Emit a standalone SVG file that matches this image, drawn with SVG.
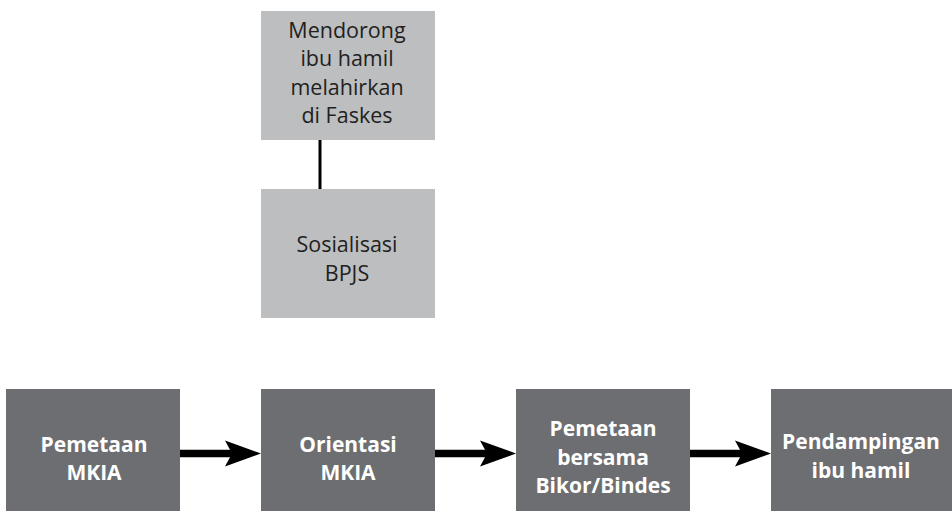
<svg xmlns="http://www.w3.org/2000/svg" width="952" height="511" viewBox="0 0 952 511">
<style>
.lt{fill:#bcbec0}
.dk{fill:#6d6e71}
.t1{font-family:"Open Sans","Noto Sans",sans-serif;font-size:21.5px;fill:#231f20;text-anchor:middle}
.t2{font-family:"Open Sans","Noto Sans",sans-serif;font-size:21px;font-weight:bold;fill:#ffffff;text-anchor:middle}
.ar{stroke:#000;stroke-width:7.5;fill:none}
</style>
<defs>
<path id="head" d="M0,0 L-36,-13 L-29,0 L-36,13 Z" fill="#000"/>
</defs>
<rect width="952" height="511" fill="#fff"/>
<g id="connectors">
<line x1="320" y1="140" x2="320" y2="189" stroke="#000" stroke-width="3"/>
<line class="ar" x1="180" y1="453.5" x2="232" y2="453.5"/>
<use href="#head" x="261" y="453.5"/>
<line class="ar" x1="435" y1="453.5" x2="487" y2="453.5"/>
<use href="#head" x="516" y="453.5"/>
<line class="ar" x1="690" y1="453.5" x2="742" y2="453.5"/>
<use href="#head" x="771" y="453.5"/>
</g>
<g id="n1">
<rect class="lt" x="261" y="11" width="174" height="129"/>
<text class="t1" x="347" y="38">Mendorong</text>
<text class="t1" x="347" y="66">ibu hamil</text>
<text class="t1" x="347" y="95">melahirkan</text>
<text class="t1" x="347" y="123">di Faskes</text>
</g>
<g id="n2">
<rect class="lt" x="261" y="189" width="174" height="129"/>
<text class="t1" x="347" y="252">Sosialisasi</text>
<text class="t1" x="347" y="281">BPJS</text>
</g>
<g id="n3">
<rect class="dk" x="6" y="389" width="174" height="122"/>
<text class="t2" x="94" y="452">Pemetaan</text>
<text class="t2" x="94" y="480">MKIA</text>
</g>
<g id="n4">
<rect class="dk" x="261" y="389" width="174" height="122"/>
<text class="t2" x="348" y="452">Orientasi</text>
<text class="t2" x="348" y="480">MKIA</text>
</g>
<g id="n5">
<rect class="dk" x="516" y="389" width="174" height="122"/>
<text class="t2" x="603" y="436">Pemetaan</text>
<text class="t2" x="603" y="465">bersama</text>
<text class="t2" x="603" y="493">Bikor/Bindes</text>
</g>
<g id="n6">
<rect class="dk" x="771" y="389" width="181" height="122"/>
<text class="t2" x="861" y="449">Pendampingan</text>
<text class="t2" x="861" y="478">ibu hamil</text>
</g>
</svg>
